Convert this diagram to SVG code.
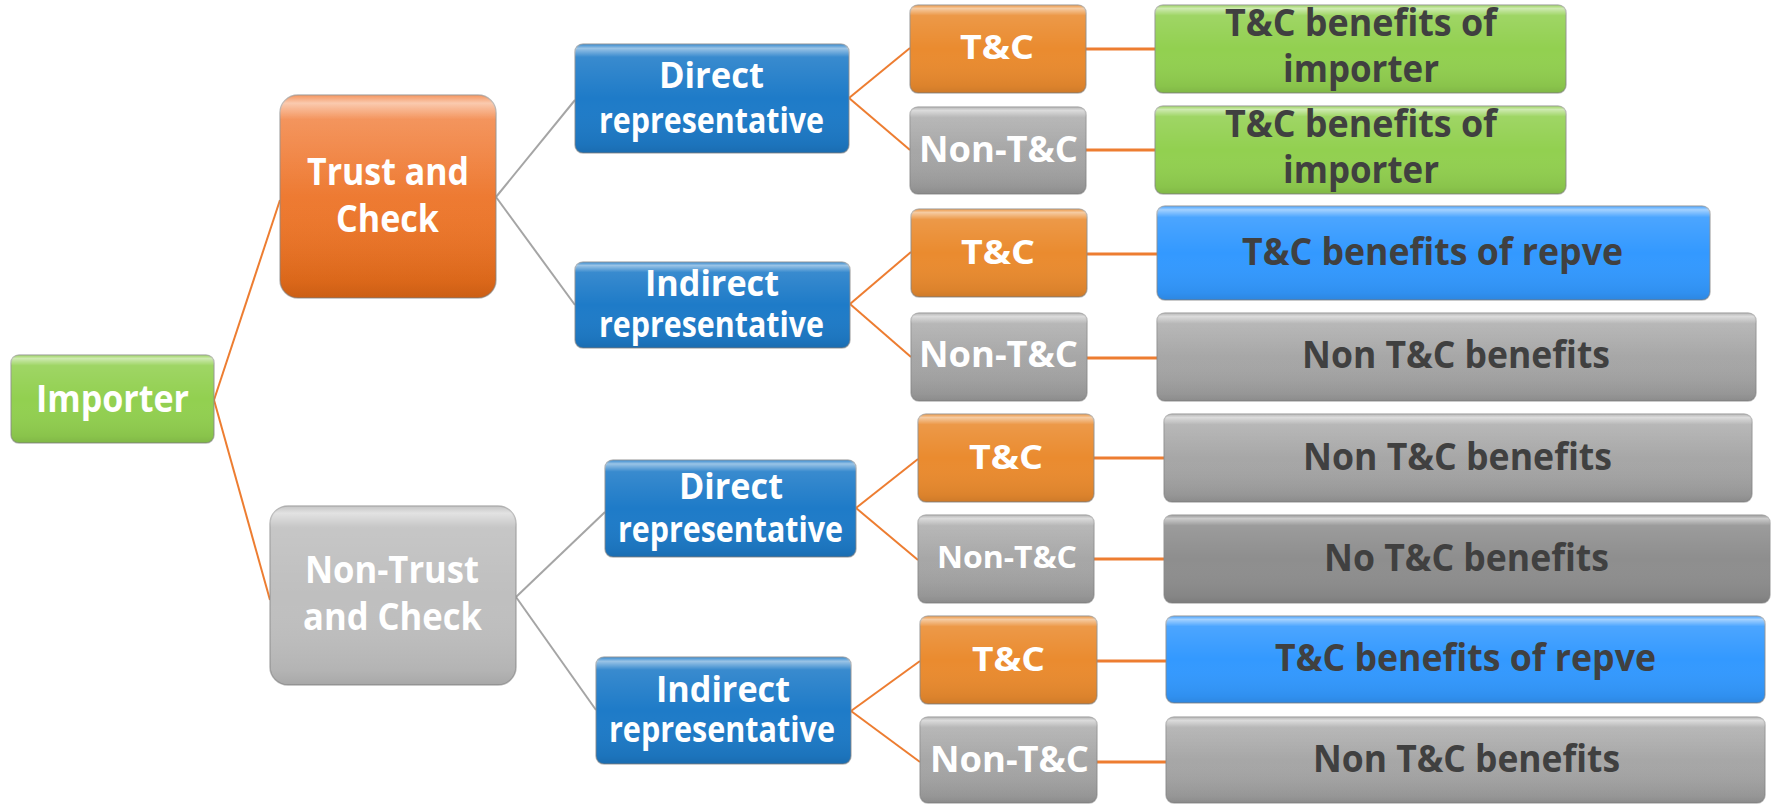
<svg xmlns="http://www.w3.org/2000/svg" width="1773" height="805" viewBox="0 0 1773 805">
<defs>
<linearGradient id="gloss" x1="0" y1="0" x2="0" y2="1">
<stop offset="0" stop-color="#fff" stop-opacity="0.1"/>
<stop offset="0.04" stop-color="#fff" stop-opacity="0.55"/>
<stop offset="0.12" stop-color="#fff" stop-opacity="0.12"/>
<stop offset="0.5" stop-color="#fff" stop-opacity="0"/>
<stop offset="0.92" stop-color="#000" stop-opacity="0.06"/>
<stop offset="1" stop-color="#000" stop-opacity="0.12"/>
</linearGradient>
<linearGradient id="orangeBig" x1="0" y1="0" x2="0" y2="1">
<stop offset="0" stop-color="#F48A4E"/>
<stop offset="1" stop-color="#E76B17"/>
</linearGradient>
<linearGradient id="grayGrad" x1="0" y1="0" x2="0" y2="1">
<stop offset="0" stop-color="#B0B0B0"/>
<stop offset="1" stop-color="#9E9E9E"/>
</linearGradient>
</defs>
<style>
.box{stroke:#8a8a8a;stroke-opacity:0.6;stroke-width:1.5}
.gl{fill:url(#gloss);stroke:none}
.green{fill:#92D050}
.orangeBig{fill:url(#orangeBig)}
.lgray{fill:#BFBFBF}
.blue{fill:#1E7BC8}
.orange{fill:#EA8B2F}
.gray{fill:url(#grayGrad)}
.dgray{fill:#8E8E8E}
.lblue{fill:#3399FF}
text{font-family:"Open Sans","Liberation Sans",sans-serif;font-weight:700;text-anchor:middle}
.w{fill:#FFFFFF}
.d{fill:#404040}
.c-or{stroke:#ED7D31;stroke-width:2;fill:none}
.c-orh{stroke:#ED7D31;stroke-width:3;fill:none}
.c-gr{stroke:#A5A5A5;stroke-width:2;fill:none}
</style>
<rect width="1773" height="805" fill="#FFFFFF"/>

<g id="connectors">
<line class="c-or" x1="214" y1="400" x2="280" y2="200"/>
<line class="c-or" x1="214" y1="400" x2="270" y2="600"/>
<line class="c-gr" x1="496" y1="197" x2="575" y2="100"/>
<line class="c-gr" x1="496" y1="197" x2="575" y2="305"/>
<line class="c-gr" x1="516" y1="597" x2="605" y2="512"/>
<line class="c-gr" x1="516" y1="597" x2="596" y2="710"/>
<line class="c-or" x1="849" y1="98" x2="910" y2="48"/>
<line class="c-or" x1="849" y1="98" x2="910" y2="150"/>
<line class="c-or" x1="850" y1="304" x2="911" y2="252"/>
<line class="c-or" x1="850" y1="304" x2="911" y2="357"/>
<line class="c-or" x1="856" y1="508" x2="918" y2="459"/>
<line class="c-or" x1="856" y1="508" x2="918" y2="560"/>
<line class="c-or" x1="851" y1="711" x2="920" y2="661"/>
<line class="c-or" x1="851" y1="711" x2="920" y2="762"/>
<line class="c-orh" x1="1086" y1="49" x2="1155" y2="49"/>
<line class="c-orh" x1="1086" y1="150" x2="1155" y2="150"/>
<line class="c-orh" x1="1087" y1="254" x2="1157" y2="254"/>
<line class="c-orh" x1="1087" y1="358" x2="1157" y2="358"/>
<line class="c-orh" x1="1094" y1="458" x2="1164" y2="458"/>
<line class="c-orh" x1="1094" y1="559" x2="1164" y2="559"/>
<line class="c-orh" x1="1097" y1="661" x2="1166" y2="661"/>
<line class="c-orh" x1="1097" y1="762" x2="1166" y2="762"/>
</g>

<g id="importer">
<rect class="box green" x="11" y="355" width="203" height="88" rx="8"/>
<rect class="gl" x="11" y="355" width="203" height="88" rx="8"/>
<text class="w" x="112.5" y="412" font-size="38" textLength="153" lengthAdjust="spacingAndGlyphs">Importer</text>
</g>

<g id="trust">
<rect class="box orangeBig" x="280" y="95" width="216" height="203" rx="18"/>
<rect class="gl" x="280" y="95" width="216" height="203" rx="18"/>
<text class="w" x="388" y="185" font-size="38" textLength="162" lengthAdjust="spacingAndGlyphs">Trust and</text>
<text class="w" x="387.5" y="232" font-size="38" textLength="103" lengthAdjust="spacingAndGlyphs">Check</text>
</g>

<g id="nontrust">
<rect class="box lgray" x="270" y="506" width="246" height="179" rx="18"/>
<rect class="gl" x="270" y="506" width="246" height="179" rx="18"/>
<text class="w" x="392" y="583" font-size="38" textLength="174" lengthAdjust="spacingAndGlyphs">Non-Trust</text>
<text class="w" x="392.5" y="630" font-size="38" textLength="179" lengthAdjust="spacingAndGlyphs">and Check</text>
</g>

<g id="direct1">
<rect class="box blue" x="575" y="44" width="274" height="109" rx="8"/>
<rect class="gl" x="575" y="44" width="274" height="109" rx="8"/>
<text class="w" x="711.5" y="88" font-size="35" textLength="105" lengthAdjust="spacingAndGlyphs">Direct</text>
<text class="w" x="711.5" y="133" font-size="35" textLength="225" lengthAdjust="spacingAndGlyphs">representative</text>
</g>

<g id="indirect1">
<rect class="box blue" x="575" y="262" width="275" height="86" rx="8"/>
<rect class="gl" x="575" y="262" width="275" height="86" rx="8"/>
<text class="w" x="712" y="296" font-size="35" textLength="134" lengthAdjust="spacingAndGlyphs">Indirect</text>
<text class="w" x="711.5" y="337" font-size="35" textLength="225" lengthAdjust="spacingAndGlyphs">representative</text>
</g>

<g id="direct2">
<rect class="box blue" x="605" y="460" width="251" height="97" rx="8"/>
<rect class="gl" x="605" y="460" width="251" height="97" rx="8"/>
<text class="w" x="731" y="499" font-size="35" textLength="104" lengthAdjust="spacingAndGlyphs">Direct</text>
<text class="w" x="730.5" y="542" font-size="35" textLength="225" lengthAdjust="spacingAndGlyphs">representative</text>
</g>

<g id="indirect2">
<rect class="box blue" x="596" y="657" width="255" height="107" rx="8"/>
<rect class="gl" x="596" y="657" width="255" height="107" rx="8"/>
<text class="w" x="723" y="702" font-size="35" textLength="134" lengthAdjust="spacingAndGlyphs">Indirect</text>
<text class="w" x="722" y="742" font-size="35" textLength="226" lengthAdjust="spacingAndGlyphs">representative</text>
</g>

<g id="tc1">
<rect class="box orange" x="910" y="5" width="176" height="88" rx="8"/>
<rect class="gl" x="910" y="5" width="176" height="88" rx="8"/>
<text class="w" x="997" y="59" font-size="34" textLength="74" lengthAdjust="spacingAndGlyphs">T&amp;C</text>
</g>
<g id="ntc1">
<rect class="box gray" x="910" y="107" width="176" height="87" rx="8"/>
<rect class="gl" x="910" y="107" width="176" height="87" rx="8"/>
<text class="w" x="998.5" y="162" font-size="35" textLength="159" lengthAdjust="spacingAndGlyphs">Non-T&amp;C</text>
</g>
<g id="tc2">
<rect class="box orange" x="911" y="209" width="176" height="88" rx="8"/>
<rect class="gl" x="911" y="209" width="176" height="88" rx="8"/>
<text class="w" x="998" y="264" font-size="34" textLength="74" lengthAdjust="spacingAndGlyphs">T&amp;C</text>
</g>
<g id="ntc2">
<rect class="box gray" x="911" y="313" width="176" height="88" rx="8"/>
<rect class="gl" x="911" y="313" width="176" height="88" rx="8"/>
<text class="w" x="998.5" y="367" font-size="35" textLength="159" lengthAdjust="spacingAndGlyphs">Non-T&amp;C</text>
</g>
<g id="tc3">
<rect class="box orange" x="918" y="414" width="176" height="88" rx="8"/>
<rect class="gl" x="918" y="414" width="176" height="88" rx="8"/>
<text class="w" x="1006" y="469" font-size="34" textLength="74" lengthAdjust="spacingAndGlyphs">T&amp;C</text>
</g>
<g id="ntc3">
<rect class="box gray" x="918" y="515" width="176" height="88" rx="8"/>
<rect class="gl" x="918" y="515" width="176" height="88" rx="8"/>
<text class="w" x="1007" y="568" font-size="30" textLength="140" lengthAdjust="spacingAndGlyphs">Non-T&amp;C</text>
</g>
<g id="tc4">
<rect class="box orange" x="920" y="616" width="177" height="88" rx="8"/>
<rect class="gl" x="920" y="616" width="177" height="88" rx="8"/>
<text class="w" x="1008.5" y="671" font-size="34" textLength="73" lengthAdjust="spacingAndGlyphs">T&amp;C</text>
</g>
<g id="ntc4">
<rect class="box gray" x="920" y="717" width="177" height="86" rx="8"/>
<rect class="gl" x="920" y="717" width="177" height="86" rx="8"/>
<text class="w" x="1009.5" y="772" font-size="35" textLength="159" lengthAdjust="spacingAndGlyphs">Non-T&amp;C</text>
</g>

<g id="benefit1">
<rect class="box green" x="1155" y="5" width="411" height="88" rx="8"/>
<rect class="gl" x="1155" y="5" width="411" height="88" rx="8"/>
<text class="d" x="1361" y="36" font-size="37" textLength="272" lengthAdjust="spacingAndGlyphs">T&amp;C benefits of</text>
<text class="d" x="1361" y="82" font-size="37" textLength="156" lengthAdjust="spacingAndGlyphs">importer</text>
</g>
<g id="benefit2">
<rect class="box green" x="1155" y="106" width="411" height="88" rx="8"/>
<rect class="gl" x="1155" y="106" width="411" height="88" rx="8"/>
<text class="d" x="1361" y="137" font-size="37" textLength="272" lengthAdjust="spacingAndGlyphs">T&amp;C benefits of</text>
<text class="d" x="1361" y="183" font-size="37" textLength="156" lengthAdjust="spacingAndGlyphs">importer</text>
</g>
<g id="benefit3">
<rect class="box lblue" x="1157" y="206" width="553" height="94" rx="8"/>
<rect class="gl" x="1157" y="206" width="553" height="94" rx="8"/>
<text class="d" x="1432.5" y="265" font-size="37" textLength="381" lengthAdjust="spacingAndGlyphs">T&amp;C benefits of repve</text>
</g>
<g id="benefit4">
<rect class="box gray" x="1157" y="313" width="599" height="88" rx="8"/>
<rect class="gl" x="1157" y="313" width="599" height="88" rx="8"/>
<text class="d" x="1456" y="368" font-size="37" textLength="308" lengthAdjust="spacingAndGlyphs">Non T&amp;C benefits</text>
</g>
<g id="benefit5">
<rect class="box gray" x="1164" y="414" width="588" height="88" rx="8"/>
<rect class="gl" x="1164" y="414" width="588" height="88" rx="8"/>
<text class="d" x="1457.5" y="470" font-size="37" textLength="309" lengthAdjust="spacingAndGlyphs">Non T&amp;C benefits</text>
</g>
<g id="benefit6">
<rect class="box dgray" x="1164" y="515" width="606" height="88" rx="8"/>
<rect class="gl" x="1164" y="515" width="606" height="88" rx="8"/>
<text class="d" x="1466.5" y="571" font-size="37" textLength="285" lengthAdjust="spacingAndGlyphs">No T&amp;C benefits</text>
</g>
<g id="benefit7">
<rect class="box lblue" x="1166" y="616" width="599" height="87" rx="8"/>
<rect class="gl" x="1166" y="616" width="599" height="87" rx="8"/>
<text class="d" x="1465.5" y="671" font-size="37" textLength="381" lengthAdjust="spacingAndGlyphs">T&amp;C benefits of repve</text>
</g>
<g id="benefit8">
<rect class="box gray" x="1166" y="717" width="599" height="86" rx="8"/>
<rect class="gl" x="1166" y="717" width="599" height="86" rx="8"/>
<text class="d" x="1466.5" y="772" font-size="37" textLength="307" lengthAdjust="spacingAndGlyphs">Non T&amp;C benefits</text>
</g>
</svg>
